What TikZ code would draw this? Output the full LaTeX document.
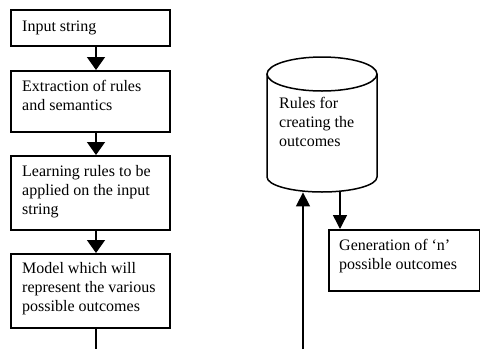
\documentclass[tikz,border=0pt]{standalone}
\usepackage{fontspec}
\setmainfont{Liberation Serif}
\usetikzlibrary{arrows.meta}
\begin{document}
\begin{tikzpicture}[x=1pt,y=-1pt,
  box/.style={draw, line width=1.5pt, rectangle, inner sep=0, anchor=north west},
  txt/.style={anchor=base west, align=left, inner sep=0, font=\fontsize{16}{19}\selectfont},
  bigarrow/.style={line width=1.5pt, -{Triangle[width=18pt,length=13pt]}},
  smallarrow/.style={line width=1.5pt, -{Triangle[width=14pt,length=14pt]}},
  plain/.style={line width=1.5pt}]
\useasboundingbox (0,0) rectangle (480,349);
% left column boxes
\node[box, minimum width=159pt, minimum height=36pt] (b1) at (10,9) {};
\node[box, minimum width=159pt, minimum height=61pt] (b2) at (10,70) {};
\node[box, minimum width=159pt, minimum height=74pt] (b3) at (10,155) {};
\node[box, minimum width=159pt, minimum height=74pt] (b4) at (10,253) {};
% base anchor of a multi-line node is the last line's baseline
\node[txt] (t1) at (22,31) {Input string};
\node[txt] (t2) at (22,110) {Extraction of rules\\and semantics};
\node[txt] (t3) at (22,214) {Learning rules to be\\applied on the input\\string};
\node[txt] (t4) at (22,311) {Model which will\\represent the various\\possible outcomes};
\coordinate (ax) at (96,0);
\draw[bigarrow] (b1.south -| ax) -- (b2.north -| ax);
\draw[bigarrow] (b2.south -| ax) -- (b3.north -| ax);
\draw[bigarrow] (b3.south -| ax) -- (b4.north -| ax);
\coordinate (e1) at (96,349);
\draw[plain] (b4.south -| e1) -- (e1);
% cylinder
\node[minimum width=110pt, minimum height=135pt, inner sep=0, anchor=north west] (cyl) at (267,57) {};
\draw[plain] (322,74) ellipse [x radius=55, y radius=17];
\draw[plain] (267,74) -- (267,177) .. controls (267,185.3) and (291.6,192) .. (322,192)
  .. controls (352.4,192) and (377,185.3) .. (377,177) -- (377,74);
\node[txt] (tc) at (279,146) {Rules for\\creating the\\outcomes};
% generation box
\node[box, minimum width=151pt, minimum height=61pt] (gen) at (328,229) {};
\node[txt] (tg) at (339,269) {Generation of ‘n’\\possible outcomes};
\coordinate (dx) at (340,191);
\draw[smallarrow] (dx) -- (dx |- gen.north);
\coordinate (up) at (303,349);
\draw[smallarrow] (up) -- (up |- cyl.south);
\end{tikzpicture}
\end{document}
